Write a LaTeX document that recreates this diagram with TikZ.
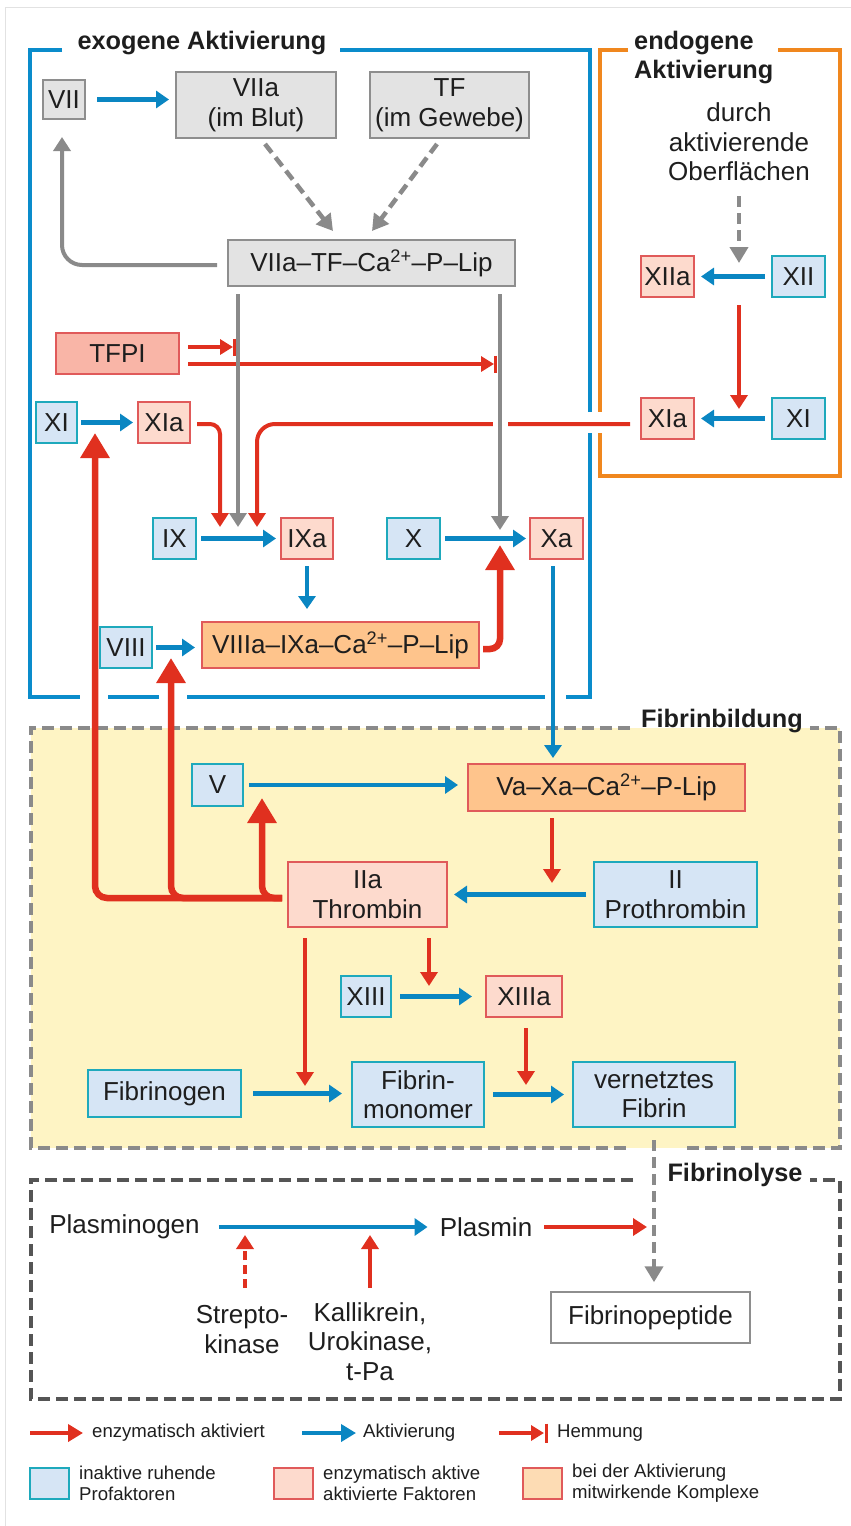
\documentclass[tikz,border=0pt]{standalone}
\usepackage{fontspec}
\setmainfont{Liberation Sans}
\usetikzlibrary{arrows.meta}
\definecolor{bluea}{HTML}{0A86C2}
\definecolor{exoc}{HTML}{0A8CCB}
\definecolor{endoc}{HTML}{F0871E}
\definecolor{tealb}{HTML}{1EA9BC}
\definecolor{inactf}{HTML}{D6E5F5}
\definecolor{reda}{HTML}{E0301F}
\definecolor{redb}{HTML}{E05A5A}
\definecolor{actf}{HTML}{FDDACD}
\definecolor{tfpif}{HTML}{F9B5A7}
\definecolor{cplxf}{HTML}{FEC48C}
\definecolor{legof}{HTML}{FDDCB4}
\definecolor{grayf}{HTML}{E3E3E3}
\definecolor{grayb}{HTML}{8E8E8E}
\definecolor{graya}{HTML}{8A8A8A}
\definecolor{yel}{HTML}{FEF4C4}
\definecolor{lysd}{HTML}{555555}
\definecolor{pagef}{HTML}{E2E2E2}
\definecolor{txtc}{HTML}{1E1E1E}
\newcommand{\bxf}{\fontsize{26}{29.5}\selectfont}
\newcommand{\ttlf}{\fontsize{25.3}{29}\selectfont\bfseries}
\newcommand{\lgf}{\fontsize{18.6}{21}\selectfont}
\tikzset{
 box/.style={draw, line width=2pt, inner sep=0pt, align=center, text=txtc, font=\bxf},
 inact/.style={box, draw=tealb, fill=inactf},
 act/.style={box, draw=redb, fill=actf},
 cplx/.style={box, draw=redb, fill=cplxf},
 grybox/.style={box, draw=grayb, fill=grayf},
 plain/.style={inner sep=0pt, align=center, text=txtc, font=\bxf},
 ttl/.style={inner sep=0pt, align=left, text=txtc, font=\ttlf},
 lg/.style={inner sep=0pt, align=left, text=txtc, font=\lgf, anchor=west},
 barr/.style={draw=bluea, line width=4.5pt, -{Triangle[length=13pt,width=17pt]}},
 rarr/.style={draw=reda, line width=4pt, -{Triangle[length=14pt,width=17pt]}},
 rthick/.style={draw=reda, line width=6.5pt, rounded corners=12pt, -{Triangle[length=25pt,width=28pt]}},
 garr/.style={draw=graya, line width=4pt, -{Triangle[length=14pt,width=17pt]}},
 gdash/.style={draw=graya, line width=4.5pt, dash pattern=on 11pt off 6pt, -{Triangle[length=16pt,width=18pt]}},
 inh/.style={draw=reda, line width=3.5pt, -{Triangle[length=13pt,width=15pt]}},
 inhbar/.style={draw=reda, line width=3pt},
 exo/.style={draw=exoc, line width=4.5pt},
 endo/.style={draw=endoc, line width=4.5pt},
 fbd/.style={draw=graya, line width=3.5pt, dash pattern=on 12pt off 6pt},
 fld/.style={draw=lysd, line width=4pt, dash pattern=on 12pt off 6pt},
}
\begin{document}
\begin{tikzpicture}[x=1pt,y=-1pt]
\useasboundingbox (0,0) rectangle (851,1526);
\draw[pagef, line width=1pt] (5,1526) -- (5,7) -- (851,7);

% ---------- frames ----------
\draw[exo] (62,50) -- (30,50) -- (30,697) -- (80,697);
\draw[exo] (108,697) -- (159,697);
\draw[exo] (187,697) -- (545,697);
\draw[exo] (566,697) -- (590,697) -- (590,433);
\draw[exo] (590,412) -- (590,50) -- (340,50);
\draw[endo] (628,50) -- (600,50) -- (600,412);
\draw[endo] (600,433) -- (600,476) -- (840,476) -- (840,50) -- (778,50);

\fill[yel] (31,728) rectangle (840,1148);
\draw[fbd] (630,728) -- (31,728) -- (31,1148) -- (628,1148);
\draw[fbd] (687,1148) -- (840,1148) -- (840,728) -- (810,728);

\draw[fld] (633,1180) -- (31,1180) -- (31,1399) -- (840,1399) -- (840,1180) -- (810,1180);

% ---------- titles ----------
\node[ttl] (texo) at (202,43) {exogene Aktivierung};
\node[ttl, anchor=west] (tendo) at (634,57.5) {endogene\\Aktivierung};
\node[ttl] (tfb) at (722,721) {Fibrinbildung};
\node[ttl] (tfl) at (735,1175) {Fibrinolyse};

% ---------- exogenous ----------
\node[grybox, minimum width=42, minimum height=39] (VII) at (64,99.5) {VII};
\node[grybox, minimum width=160, minimum height=66] (VIIa) at (256,105) {VIIa\\(im Blut)};
\node[grybox, minimum width=159, minimum height=66] (TF) at (449.5,105) {TF\\(im Gewebe)};
\node[grybox, minimum width=287, minimum height=46] (VIIaTF) at (371.5,263) {VIIa–TF–Ca\textsuperscript{2+}–P–Lip};
\node[box, draw=redb, fill=tfpif, minimum width=123, minimum height=41] (TFPI) at (117.5,353.5) {TFPI};
\node[inact, minimum width=41, minimum height=41] (XI) at (56.5,422.5) {XI};
\node[act, minimum width=52, minimum height=41] (XIa) at (164,422.5) {XIa};
\node[inact, minimum width=43, minimum height=41] (IX) at (174.5,538.5) {IX};
\node[act, minimum width=52, minimum height=41] (IXa) at (307,538.5) {IXa};
\node[inact, minimum width=53, minimum height=41] (X) at (413.5,538.5) {X};
\node[act, minimum width=53, minimum height=41] (Xa) at (556.5,538.5) {Xa};
\node[inact, minimum width=52, minimum height=41] (VIII) at (126,647.5) {VIII};
\node[cplx, minimum width=277, minimum height=46] (VIIIa) at (340.5,645) {VIIIa–IXa–Ca\textsuperscript{2+}–P–Lip};

% ---------- endogenous ----------
\node[plain] (durch) at (739,142) {durch\\aktivierende\\Oberflächen};
\node[act, minimum width=53, minimum height=41] (XIIa) at (667.5,276.5) {XIIa};
\node[inact, minimum width=53, minimum height=41] (XII) at (798.5,276.5) {XII};
\node[act, minimum width=53, minimum height=41] (XIa2) at (667.5,418.5) {XIa};
\node[inact, minimum width=53, minimum height=41] (XI2) at (798.5,418.5) {XI};

% ---------- fibrin formation ----------
\node[inact, minimum width=51, minimum height=42] (V) at (217.5,785) {V};
\node[cplx, minimum width=277, minimum height=47] (Va) at (606.5,787.5) {Va–Xa–Ca\textsuperscript{2+}–P-Lip};
\node[act, minimum width=159, minimum height=65] (IIa) at (367.5,894.5) {IIa\\Thrombin};
\node[inact, minimum width=163, minimum height=65] (II) at (675.5,894.5) {II\\Prothrombin};
\node[inact, minimum width=50, minimum height=41] (XIII) at (366,996.5) {XIII};
\node[act, minimum width=76, minimum height=41] (XIIIa) at (524,996.5) {XIIIa};
\node[inact, minimum width=153, minimum height=47] (Fgen) at (164.5,1093.5) {Fibrinogen};
\node[inact, minimum width=132, minimum height=65] (Fmono) at (418,1094.5) {Fibrin-\\monomer};
\node[inact, minimum width=162, minimum height=65] (vern) at (654,1094.5) {vernetztes\\Fibrin};

% ---------- fibrinolysis ----------
\node[plain] (Pgen) at (124.5,1227) {Plasminogen};
\node[plain] (Pmin) at (486,1227) {Plasmin};
\node[plain] (Strep) at (242,1329.5) {Strepto-\\kinase};
\node[plain] (Kalli) at (370,1341.5) {Kallikrein,\\Urokinase,\\t-Pa};
\node[box, draw=grayb, line width=1.5pt, fill=white, minimum width=199, minimum height=51] (Fpep) at (650.5,1317.5) {Fibrinopeptide};

% ---------- coordinates ----------
\coordinate (h1) at (234,347);
\coordinate (h2) at (495,364);
\coordinate (c1) at (220,527);
\coordinate (c2) at (238,527);
\coordinate (c3) at (257,527);
\coordinate (c4) at (500,530);
\coordinate (t1) at (95,433);
\coordinate (t2) at (171,658);
\coordinate (t3) at (262,798);
\coordinate (t4) at (500,545);
\coordinate (xad) at (553,758);
\coordinate (c5) at (305,1086);
\coordinate (c6) at (429,986);
\coordinate (c7) at (526,1085);
\coordinate (c8) at (552,883);
\coordinate (d1a) at (739,196);
\coordinate (d1b) at (739,263);
\coordinate (r1a) at (739,305);
\coordinate (r1b) at (739,409);
\coordinate (pl) at (647,1227);
\coordinate (s1a) at (245,1288);
\coordinate (s1b) at (245,1235);
\coordinate (s2a) at (370,1288);
\coordinate (s2b) at (370,1235);

% ---------- connectors (exogenous) ----------
\draw[barr, shorten <=11pt, shorten >=6pt] (VII.east) -- (VII.east -| VIIa.west);
\draw[gdash] ([xshift=9pt,yshift=-5pt]VIIa.south) -- ([xshift=-38.5pt,yshift=8pt]VIIaTF.north);
\draw[gdash] ([xshift=-12.5pt,yshift=-5pt]TF.south) -- ([xshift=0.5pt,yshift=8pt]VIIaTF.north);
\draw[garr, rounded corners=20pt] ([xshift=-10pt,yshift=-2pt]VIIaTF.west) -| ([xshift=-2pt,yshift=-17pt]VII.south);

\draw[inh] ([xshift=8pt,yshift=6.5pt]TFPI.east) -- ([xshift=-1pt]h1);
\draw[inhbar] ([yshift=8.5pt]h1) -- ([yshift=-8.5pt]h1);
\draw[inh] ([xshift=8pt,yshift=-10.5pt]TFPI.east) -- ([xshift=-1pt]h2);
\draw[inhbar] ([yshift=8.5pt]h2) -- ([yshift=-8.5pt]h2);

\draw[rarr, rounded corners=18pt] ([xshift=-10pt,yshift=-5.5pt]XIa2.west) -| (c3);
\fill[white] (493,418) rectangle (508,430);
\draw[garr] ([xshift=-133.5pt,yshift=-7pt]VIIaTF.south) -- (c2);
\draw[garr] ([xshift=128.5pt,yshift=-7pt]VIIaTF.south) -- (c4);
\draw[rarr, rounded corners=10pt] ([xshift=6pt,yshift=-1.5pt]XIa.east) -| (c1);

\draw[barr, shorten <=3pt, shorten >=4pt] (XI.east) -- (XI.east -| XIa.west);
\draw[barr, shorten <=4pt, shorten >=4pt] (IX.east) -- (IX.east -| IXa.west);
\draw[barr, shorten <=4pt, shorten >=3pt] (X.east) -- (X.east -| Xa.west);
\draw[barr, shorten <=6pt, shorten >=12pt] (IXa.south) -- (IXa.south |- VIIIa.north);
\draw[barr, shorten <=3pt, shorten >=6pt] (VIII.east) -- (VIII.east -| VIIIa.west);
\draw[rthick, rounded corners=10pt] ([xshift=3pt,yshift=-4pt]VIIIa.east) -| (t4);
\draw[barr] ([xshift=-3.5pt,yshift=-6pt]Xa.south) -- (xad);

% ---------- connectors (endogenous) ----------
\draw[gdash] (d1a) -- (d1b);
\draw[barr, shorten <=6pt, shorten >=6pt] (XII.west) -- (XII.west -| XIIa.east);
\draw[rarr] (r1a) -- (r1b);
\draw[barr, shorten <=6pt, shorten >=6pt] (XI2.west) -- (XI2.west -| XIa2.east);

% ---------- connectors (fibrin formation) ----------
\draw[barr, shorten <=5pt, shorten >=9pt] (V.east) -- (V.east -| Va.west);
\draw[rarr] ([xshift=-54.5pt,yshift=-6pt]Va.south) -- (c8);
\draw[barr, shorten <=7pt, shorten >=6pt] (II.west) -- (II.west -| IIa.east);
\draw[rthick] ([xshift=-5pt,yshift=-3.5pt]IIa.west) -| (t1);
\draw[rthick] ([xshift=-5pt,yshift=-3.5pt]IIa.west) -| (t2);
\draw[rthick] ([xshift=-5pt,yshift=-3.5pt]IIa.west) -| (t3);
\draw[rarr] ([xshift=-62.5pt,yshift=-10pt]IIa.south) -- (c5);
\draw[rarr] ([xshift=61.5pt,yshift=-10pt]IIa.south) -- (c6);
\draw[barr, shorten <=8pt, shorten >=13pt] (XIII.east) -- (XIII.east -| XIIIa.west);
\draw[rarr] ([xshift=2pt,yshift=-10pt]XIIIa.south) -- (c7);
\draw[barr, shorten <=11pt, shorten >=9pt] (Fgen.east) -- (Fgen.east -| Fmono.west);
\draw[barr, shorten <=8pt, shorten >=8pt] (Fmono.east) -- (Fmono.east -| vern.west);
\draw[gdash, shorten <=12pt, shorten >=9pt] (vern.south) -- (vern.south |- Fpep.north);

% ---------- connectors (fibrinolysis) ----------
\draw[barr, shorten <=19pt, shorten >=12pt] (Pgen.east) -- (Pgen.east -| Pmin.west);
\draw[rarr, shorten <=12pt] (Pmin.east) -- (pl);
\draw[rarr, dash pattern=on 9pt off 5pt] (s1a) -- (s1b);
\draw[rarr] (s2a) -- (s2b);

% ---------- legend ----------
\coordinate (la1) at (30,1433);
\coordinate (la2) at (83,1433);
\coordinate (lb1) at (302,1433);
\coordinate (lb2) at (356,1433);
\coordinate (lc1) at (499,1433);
\coordinate (lc2) at (544,1433);
\draw[draw=reda, line width=4.5pt, -{Triangle[length=15pt,width=17pt]}] (la1) -- (la2);
\draw[draw=bluea, line width=4.5pt, -{Triangle[length=15pt,width=17pt]}] (lb1) -- (lb2);
\draw[inh] (lc1) -- (lc2);
\draw[inhbar] ([xshift=2pt,yshift=9.5pt]lc2) -- ([xshift=2pt,yshift=-9.5pt]lc2);
\node[lg] (l1) at (92,1433) {enzymatisch aktiviert};
\node[lg] (l2) at (363,1433) {Aktivierung};
\node[lg] (l3) at (557,1433) {Hemmung};
\node[inact, minimum width=39, minimum height=31] (q1) at (49.5,1483.5) {};
\node[act, minimum width=39, minimum height=31] (q2) at (293.5,1483.5) {};
\node[box, draw=redb, fill=legof, minimum width=39, minimum height=31] (q3) at (542.5,1483.5) {};
\node[lg] (l4) at (79,1483.5) {inaktive ruhende\\Profaktoren};
\node[lg] (l5) at (323,1483.5) {enzymatisch aktive\\aktivierte Faktoren};
\node[lg] (l6) at (572,1483.5) {bei der Aktivierung\\mitwirkende Komplexe};
\end{tikzpicture}
\end{document}
